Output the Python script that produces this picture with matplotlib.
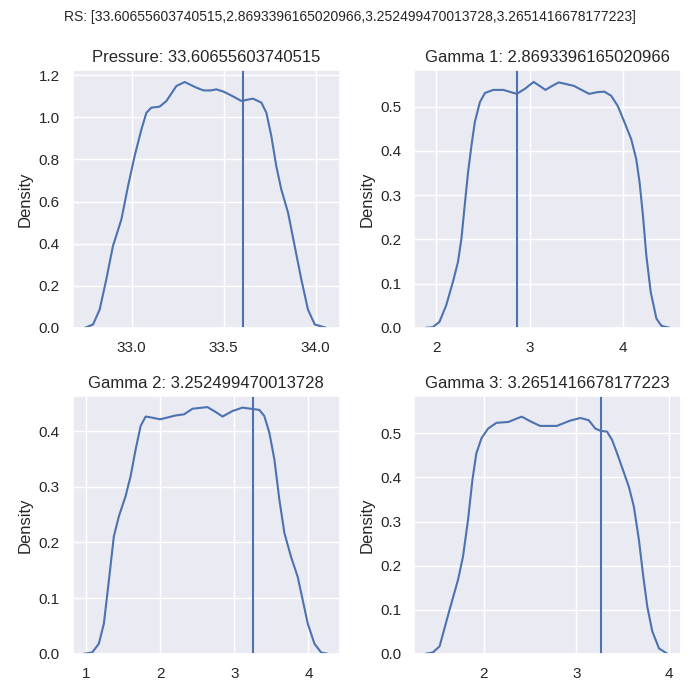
import matplotlib
matplotlib.use("Agg")
import matplotlib.pyplot as plt
import seaborn as sns

# valeurs (courbes de densite)
pressure_x = [32.745, 32.79, 32.826, 32.862, 32.898, 32.944, 32.98, 33.016, 33.053, 33.08,
              33.107, 33.152, 33.189, 33.243, 33.288, 33.352, 33.39, 33.43, 33.46, 33.5,
              33.55, 33.596, 33.659, 33.705, 33.732, 33.759, 33.786, 33.813, 33.85, 33.886,
              33.922, 33.958, 33.995, 34.058]
pressure_y = [0.0, 0.016, 0.087, 0.23, 0.388, 0.515, 0.673, 0.816, 0.943, 1.022,
              1.046, 1.051, 1.078, 1.149, 1.168, 1.141, 1.128, 1.128, 1.133, 1.122,
              1.1, 1.078, 1.089, 1.07, 1.022, 0.911, 0.768, 0.658, 0.547, 0.388,
              0.23, 0.087, 0.016, 0.0]

g1_x = [1.885, 1.964, 2.036, 2.108, 2.18, 2.234, 2.27, 2.306, 2.342, 2.378, 2.414, 2.468,
        2.522, 2.612, 2.719, 2.863, 2.953, 3.043, 3.115, 3.169, 3.241, 3.313, 3.475, 3.637,
        3.727, 3.799, 3.871, 3.942, 4.014, 4.086, 4.14, 4.176, 4.212, 4.248, 4.295, 4.356,
        4.41, 4.5]
g1_y = [0.0, 0.0015, 0.0135, 0.051, 0.104, 0.149, 0.2, 0.277, 0.352, 0.412, 0.465, 0.51,
        0.531, 0.538, 0.538, 0.529, 0.541, 0.556, 0.546, 0.538, 0.547, 0.555, 0.547, 0.529,
        0.533, 0.534, 0.525, 0.502, 0.465, 0.427, 0.382, 0.329, 0.254, 0.164, 0.081, 0.021,
        0.0045, 0.0]

g2_x = [0.968, 1.081, 1.171, 1.239, 1.307, 1.374, 1.442, 1.532, 1.6, 1.668, 1.735, 1.803,
        1.893, 1.998, 2.209, 2.322, 2.434, 2.637, 2.75, 2.84, 2.976, 3.11, 3.336, 3.404,
        3.472, 3.54, 3.607, 3.675, 3.765, 3.855, 3.923, 3.991, 4.081, 4.171, 4.26]
g2_y = [0.0, 0.0024, 0.018, 0.054, 0.132, 0.211, 0.247, 0.283, 0.319, 0.367, 0.409, 0.426,
        0.424, 0.421, 0.428, 0.43, 0.44, 0.443, 0.434, 0.426, 0.436, 0.442, 0.438, 0.427,
        0.397, 0.349, 0.277, 0.217, 0.174, 0.138, 0.096, 0.054, 0.018, 0.0024, 0.0]

g3_x = [1.371, 1.45, 1.523, 1.631, 1.722, 1.776, 1.83, 1.877, 1.92, 1.975, 2.047, 2.137,
        2.264, 2.409, 2.517, 2.608, 2.788, 2.933, 3.042, 3.132, 3.204, 3.259, 3.331, 3.385,
        3.439, 3.566, 3.62, 3.675, 3.722, 3.765, 3.819, 3.892, 3.982]
g3_y = [0.0, 0.003, 0.017, 0.1, 0.168, 0.221, 0.304, 0.394, 0.455, 0.489, 0.511, 0.524,
        0.526, 0.538, 0.526, 0.517, 0.517, 0.529, 0.535, 0.53, 0.511, 0.506, 0.504, 0.485,
        0.455, 0.379, 0.334, 0.258, 0.175, 0.107, 0.051, 0.012, 0.0]

rs = [33.60655603740515, 2.8693396165020966, 3.252499470013728, 3.2651416678177223]
noms = ["Pressure", "Gamma 1", "Gamma 2", "Gamma 3"]
courbes = [(pressure_x, pressure_y), (g1_x, g1_y), (g2_x, g2_y), (g3_x, g3_y)]
limites_x = [(32.68, 34.13), (1.767, 4.62), (0.82, 4.42), (1.25, 4.13)]
limites_y = [1.225, 0.583, 0.463, 0.585]
ticks_x = [[33.0, 33.5, 34.0], [2, 3, 4], [1, 2, 3, 4], [2, 3, 4]]

sns.set_theme(style="darkgrid")
plt.rcParams['font.family'] = ['Liberation Sans', 'DejaVu Sans']

fig, axes = plt.subplots(2, 2, figsize=(7, 7), dpi=100)
fig.subplots_adjust(left=0.104, right=0.973, top=0.9, bottom=0.066, wspace=0.28, hspace=0.264)
fig.suptitle("RS: [" + ",".join(str(v) for v in rs) + "]", fontsize=10, y=0.985)

couleur = "#4c72b0"
for i, ax in enumerate(axes.flat):
    x, y = courbes[i]
    ax.plot(x, y, color=couleur, lw=1.5)
    ax.axvline(rs[i], color=couleur, lw=1.5)
    ax.set_xlim(*limites_x[i])
    ax.set_ylim(0, limites_y[i])
    ax.set_xticks(ticks_x[i])
    ax.set_ylabel("Density")
    ax.set_title(noms[i] + ": " + str(rs[i]))

fig.savefig("out.png")
